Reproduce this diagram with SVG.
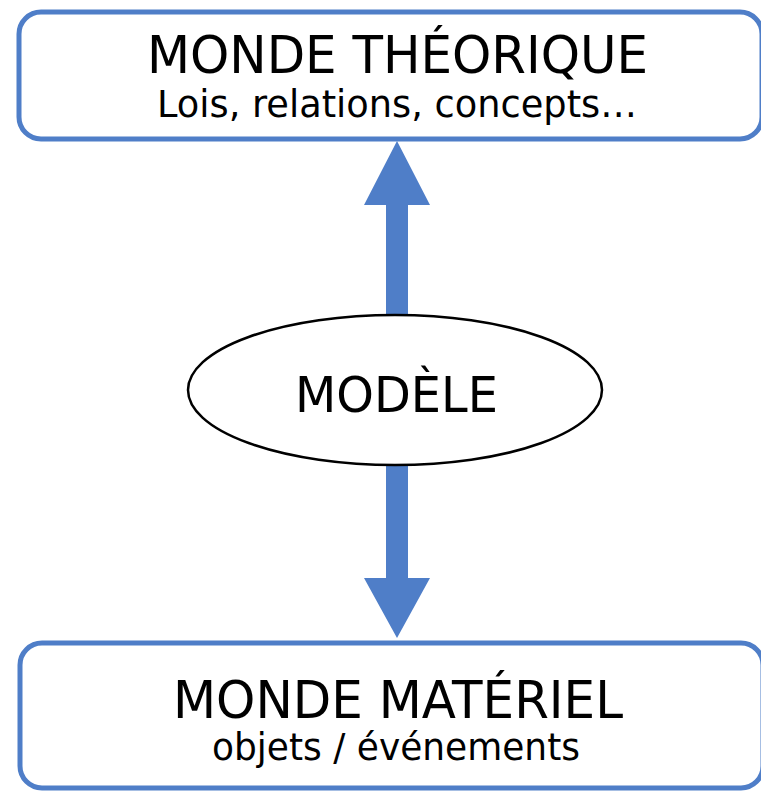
<svg xmlns="http://www.w3.org/2000/svg" width="761" height="792" viewBox="0 0 761 792">
<style>
.box{fill:#ffffff;stroke:#4F7EC8;stroke-width:5}
.arrow{fill:#4F7EC8;stroke:none}
.ell{fill:#ffffff;stroke:#000000;stroke-width:2.5}
.t{font-family:"DejaVu Sans","Noto Sans",sans-serif;fill:#000000;text-anchor:middle}
.big{font-size:52px}
.small{font-size:37px}
</style>
<rect width="761" height="792" fill="#ffffff"/>
<g id="connectors">
<polygon class="arrow" points="397,141 430,205 408,205 408,320 386,320 386,205 364,205"/>
<polygon class="arrow" points="386,460 408,460 408,578 430,578 397,638 364,578 386,578"/>
</g>
<g id="monde-theorique">
<rect class="box" x="19" y="12" width="743" height="127" rx="22" ry="22"/>
<text class="t big" x="397.5" y="73" textLength="501" lengthAdjust="spacingAndGlyphs">MONDE THÉORIQUE</text>
<text class="t small" x="397" y="117" textLength="480" lengthAdjust="spacingAndGlyphs">Lois, relations, concepts…</text>
</g>
<g id="modele">
<ellipse class="ell" cx="395" cy="390" rx="207" ry="75"/>
<text class="t" x="396.5" y="412" font-size="50" textLength="203" lengthAdjust="spacingAndGlyphs">MODÈLE</text>
</g>
<g id="monde-materiel">
<rect class="box" x="20" y="643" width="743" height="145" rx="22" ry="22"/>
<text class="t big" x="398" y="718" textLength="450" lengthAdjust="spacingAndGlyphs">MONDE MATÉRIEL</text>
<text class="t small" x="396" y="760" textLength="368" lengthAdjust="spacingAndGlyphs">objets / événements</text>
</g>
</svg>
